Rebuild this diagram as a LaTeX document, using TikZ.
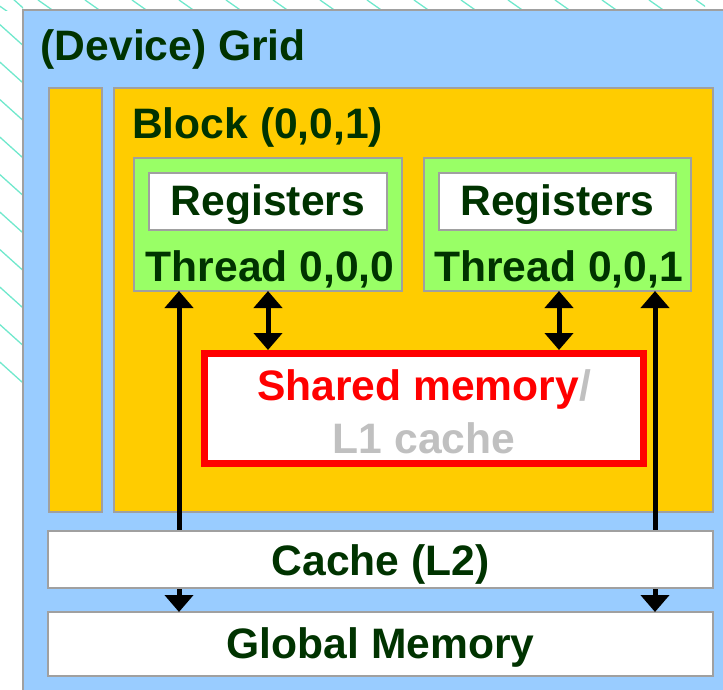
\documentclass[tikz,border=0pt]{standalone}
\usepackage{fontspec}
\setmainfont{Liberation Sans}
\usetikzlibrary{arrows.meta}
\definecolor{gridblue}{HTML}{99CCFF}
\definecolor{blockyellow}{HTML}{FFCC00}
\definecolor{threadgreen}{HTML}{99FF66}
\definecolor{textgreen}{HTML}{003300}
\definecolor{edgegrey}{HTML}{A0A0A0}
\definecolor{hatchteal}{HTML}{70E8CC}
\definecolor{cachegrey}{HTML}{C0C0C0}
\definecolor{smred}{HTML}{FF0000}

\begin{document}
\begin{tikzpicture}[x=1pt,y=-1pt,
  box/.style={draw=edgegrey, line width=1.6pt, inner sep=0pt, outer sep=0pt, anchor=center},
  lbl/.style={font=\fontsize{42.6}{42.6}\selectfont\bfseries, text=textgreen, inner sep=0pt, anchor=base},
  link/.style={line width=5pt, {Triangle[width=28pt,length=17pt]}-{Triangle[width=28pt,length=17pt]}},
]
\clip (0,0) rectangle (723,689);

% hatched backdrop behind the grid
\begin{scope}
  \clip (0,0) rectangle (705,10);
  \foreach \k in {-1,...,15}
    \draw[hatchteal, line width=1.3pt] ({38+47*\k},0) -- ++(40,28);
\end{scope}
\begin{scope}
  \clip (0,0) rectangle (23,386);
  \foreach \k in {-3,...,8}
    \draw[hatchteal, line width=1.3pt] (-10,{82+37.5*\k-28.8}) -- ++(40,36);
\end{scope}

% device grid
\node[box, fill=gridblue, minimum width=717pt, minimum height=690pt] (grid) at (381.5,355) {};
\node[lbl, anchor=base west] (gridlbl) at (40.5,60) {(Device) Grid};

% blocks
\node[box, fill=blockyellow, minimum width=53pt, minimum height=424pt] (sblock) at (75.5,300) {};
\node[box, fill=blockyellow, minimum width=599pt, minimum height=424pt] (block) at (413.5,300) {};
\node[lbl, anchor=base west] (blocklbl) at (132,138) {Block (0,0,1)};

% threads with their registers
\node[box, fill=threadgreen, minimum width=268pt, minimum height=133pt] (thr0) at (268,224.5) {};
\node[box, fill=threadgreen, minimum width=267pt, minimum height=133pt] (thr1) at (557.5,224.5) {};
\node[box, fill=white, minimum width=238pt, minimum height=57pt] (reg0) at (268,201.5) {};
\node[box, fill=white, minimum width=237pt, minimum height=57pt] (reg1) at (557.5,201.5) {};
\node[lbl] (reg0lbl) at (268,215) {Registers};
\node[lbl] (reg1lbl) at (557.5,215) {Registers};
\node[lbl] (thr0lbl) at (270,281) {Thread 0,0,0};
\node[lbl] (thr1lbl) at (558.5,281) {Thread 0,0,1};

% shared memory
\node[draw=smred, line width=7pt, fill=white, inner sep=0pt, minimum width=439pt, minimum height=110pt] (smem) at (424,408.5) {};
\node[lbl, text=smred] (smemlbl) at (424,400) {Shared memory\textcolor{cachegrey}{/}};
\node[lbl, text=cachegrey] (l1lbl) at (424,453) {L1 cache};

% memory connectors
\coordinate (xa) at (179,0);
\coordinate (xb) at (268,0);
\coordinate (xc) at (559,0);
\coordinate (xd) at (655,0);
\node[box, fill=white, minimum width=665pt, minimum height=64pt] (gmem) at (380.5,644) {};
\draw[link] (xa |- thr0.south) -- (xa |- gmem.north);
\draw[link] (xd |- thr1.south) -- (xd |- gmem.north);
\draw[link] (xb |- thr0.south) -- (xb |- smem.north);
\draw[link] (xc |- thr1.south) -- (xc |- smem.north);

% cache and global memory
\node[box, fill=white, minimum width=665pt, minimum height=57pt] (cache) at (380.5,559.5) {};
\node[lbl] (cachelbl) at (380.5,575) {Cache (L2)};
\node[lbl] (gmemlbl) at (380.5,658) {Global Memory};
\end{tikzpicture}
\end{document}
